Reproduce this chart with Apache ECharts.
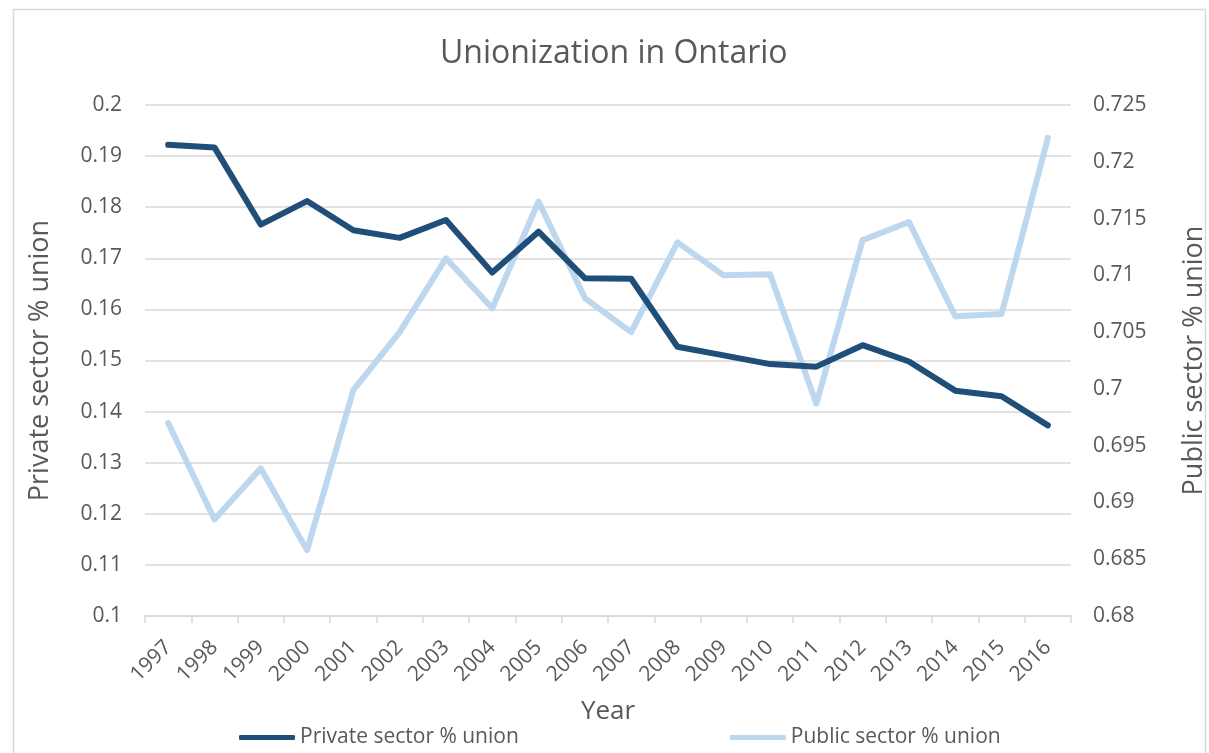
<!DOCTYPE html>
<html>
<head>
<meta charset="utf-8">
<script src="https://cdn.jsdelivr.net/npm/echarts@6/dist/echarts.min.js"></script>
<style>
html,body{margin:0;padding:0;background:#fff;}
#chart{width:1209px;height:753px;}
</style>
</head>
<body>
<div id="chart"></div>
<script>
const years = ['1997','1998','1999','2000','2001','2002','2003','2004','2005','2006','2007','2008','2009','2010','2011','2012','2013','2014','2015','2016'];
const privateSector = [0.1922,0.1917,0.1766,0.1812,0.1755,0.1740,0.1775,0.1672,0.1752,0.1661,0.1660,0.1527,0.1510,0.1493,0.1488,0.1530,0.1498,0.1441,0.1430,0.1373];
const publicSector = [0.6970,0.6885,0.6930,0.6858,0.6999,0.7050,0.7115,0.7071,0.7165,0.7080,0.7050,0.7129,0.7100,0.7101,0.6987,0.7131,0.7147,0.7064,0.7066,0.7221];
const leftTicks = {min:0.1, max:0.2, interval:0.01};
const rightTicks = {min:0.68, max:0.725, interval:0.005};

const FONT = '"Open Sans", "Liberation Sans", sans-serif';
const TXT = '#595959';
const chart = echarts.init(document.getElementById('chart'), null, {renderer:'canvas'});
chart.setOption({
  animation:false,
  backgroundColor:'#ffffff',
  graphic:[{
    type:'rect', left:11, top:7, z:-10,
    shape:{width:1192, height:780},
    style:{fill:'none', stroke:'#d9d9d9', lineWidth:1.5}
  }],
  title:{
    text:'Unionization in Ontario',
    left:435, top:33,
    textStyle:{fontFamily:FONT, fontSize:32, fontWeight:'normal', color:TXT}
  },
  legend:{
    left:234, top:722,
    itemWidth:56, itemHeight:5, itemGap:211,
    icon:'roundRect',
    textStyle:{fontFamily:FONT, fontSize:21, color:TXT},
    data:['Private sector % union','Public sector % union']
  },
  grid:{left:145, right:138, top:105, bottom:137, containLabel:false, outerBoundsMode:'none'},
  xAxis:{
    type:'category', data:years, boundaryGap:true,
    name:'Year', nameLocation:'middle', nameGap:83,
    nameTextStyle:{fontFamily:FONT, fontSize:26, color:TXT},
    axisLine:{show:true, lineStyle:{color:'#d9d9d9', width:1.5}},
    axisTick:{show:true, length:7, lineStyle:{color:'#d9d9d9', width:1.5}},
    axisLabel:{rotate:45, margin:28, fontFamily:FONT, fontSize:21, color:TXT, interval:0},
    splitLine:{show:false}
  },
  yAxis:[{
    type:'value', position:'left',
    min:leftTicks.min, max:leftTicks.max, interval:leftTicks.interval,
    name:'Private sector % union', nameLocation:'middle', nameGap:91,
    nameTextStyle:{fontFamily:FONT, fontSize:27, color:TXT},
    axisLine:{show:false}, axisTick:{show:false},
    axisLabel:{margin:23, fontFamily:FONT, fontSize:21, color:TXT},
    splitLine:{show:true, lineStyle:{color:'#d9d9d9', width:1.5}}
  },{
    type:'value', position:'right',
    min:rightTicks.min, max:rightTicks.max, interval:rightTicks.interval,
    name:'Public sector % union', nameLocation:'middle', nameGap:110,
    nameTextStyle:{fontFamily:FONT, fontSize:27, color:TXT},
    axisLine:{show:false}, axisTick:{show:false},
    axisLabel:{margin:22, fontFamily:FONT, fontSize:21, color:TXT},
    splitLine:{show:false}
  }],
  series:[{
    name:'Private sector % union', type:'line', yAxisIndex:0,
    data:privateSector, symbol:'none', smooth:false,
    itemStyle:{color:'#1F4E79'},
    lineStyle:{color:'#1F4E79', width:6, cap:'round', join:'round'},
    z:3
  },{
    name:'Public sector % union', type:'line', yAxisIndex:1,
    data:publicSector, symbol:'none', smooth:false,
    itemStyle:{color:'#BDD7EE'},
    lineStyle:{color:'#BDD7EE', width:6, cap:'round', join:'round'},
    z:2
  }]
});
</script>
</body>
</html>
